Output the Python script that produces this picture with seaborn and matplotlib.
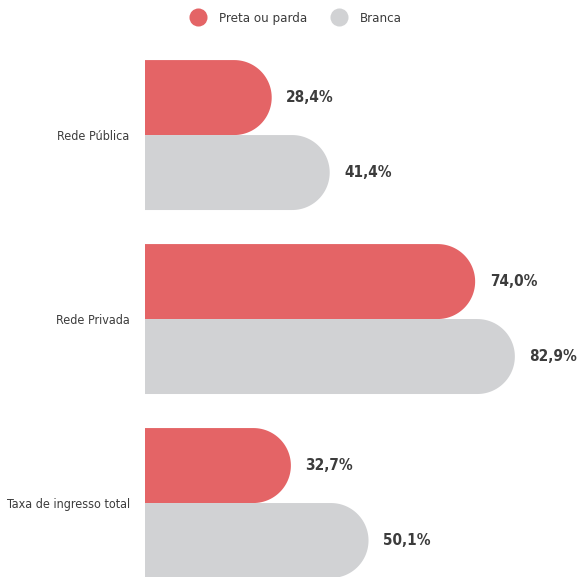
import matplotlib.pyplot as plt
import numpy as np
import pandas as pd
import seaborn as sns
from matplotlib.lines import Line2D
from matplotlib.patches import PathPatch
from matplotlib.path import Path

categories = ['Rede Pública', 'Rede Privada', 'Taxa de ingresso total']
groups = ['Preta ou parda', 'Branca']
preta_parda = [28.4, 74.0, 32.7]
branca = [41.4, 82.9, 50.1]
colors = ['#E46466', '#D1D2D4']

df = pd.DataFrame({
    'categoria': categories * 2,
    'grupo': [groups[0]] * 3 + [groups[1]] * 3,
    'valor': preta_parda + branca,
})

sns.set_style('white')
plt.rcParams['font.family'] = ['DejaVu Sans']
plt.rcParams['font.stretch'] = 'condensed'
text_color = '#3c3c3c'

fig = plt.figure(figsize=(5.8, 5.77), dpi=100)
ax = fig.add_axes([0.25, 0.0, 0.75, 1.0])

sns.barplot(data=df, y='categoria', x='valor', hue='grupo', orient='h',
            palette=colors, width=0.815, saturation=1, legend=False, ax=ax)

ax.set_xlim(0, 97.5)
ax.set_ylim(2.402, -0.734)
fig.canvas.draw()

# swap the square bars for bars with a round right end
inv = ax.transData
x_px = inv.transform((1, 0))[0] - inv.transform((0, 0))[0]
y_px = abs(inv.transform((0, 1))[1] - inv.transform((0, 0))[1])
bars = list(ax.patches)
for bar in bars:
    x0, y0 = bar.get_x(), bar.get_y()
    w, h = bar.get_width(), bar.get_height()
    r_y = h / 2
    r_x = r_y * y_px / x_px
    cx, cy = x0 + w - r_x, y0 + r_y
    t = np.linspace(-np.pi / 2, np.pi / 2, 60)
    arc = np.column_stack([cx + r_x * np.cos(t), cy + r_y * np.sin(t)])
    verts = np.vstack([[x0, y0], [cx, y0], arc, [cx, y0 + h], [x0, y0 + h], [x0, y0]])
    codes = [Path.MOVETO] + [Path.LINETO] * (len(verts) - 2) + [Path.CLOSEPOLY]
    ax.add_patch(PathPatch(Path(verts, codes), facecolor=bar.get_facecolor(),
                           edgecolor='none'))
    bar.remove()
    ax.annotate(f'{w:.1f}%'.replace('.', ','), xy=(x0 + w, cy),
                xytext=(10.5, 0), textcoords='offset points', va='center',
                ha='left', fontsize=11, fontweight='bold', color=text_color)

ax.set_xlabel('')
ax.set_ylabel('')
ax.set_xticks([])
ax.tick_params(axis='y', length=0, pad=11, labelsize=9, labelcolor=text_color)
sns.despine(ax=ax, left=True, bottom=True)

handles = [Line2D([0], [0], marker='o', linestyle='', markersize=13,
                  markerfacecolor=c, markeredgecolor='none') for c in colors]
fig.legend(handles, groups, loc='upper center', bbox_to_anchor=(0.506, 1.0),
           ncol=2, frameon=False, fontsize=9.5, handletextpad=0.6,
           columnspacing=1.35, labelcolor=text_color)

fig.savefig('out.png', dpi=100)
